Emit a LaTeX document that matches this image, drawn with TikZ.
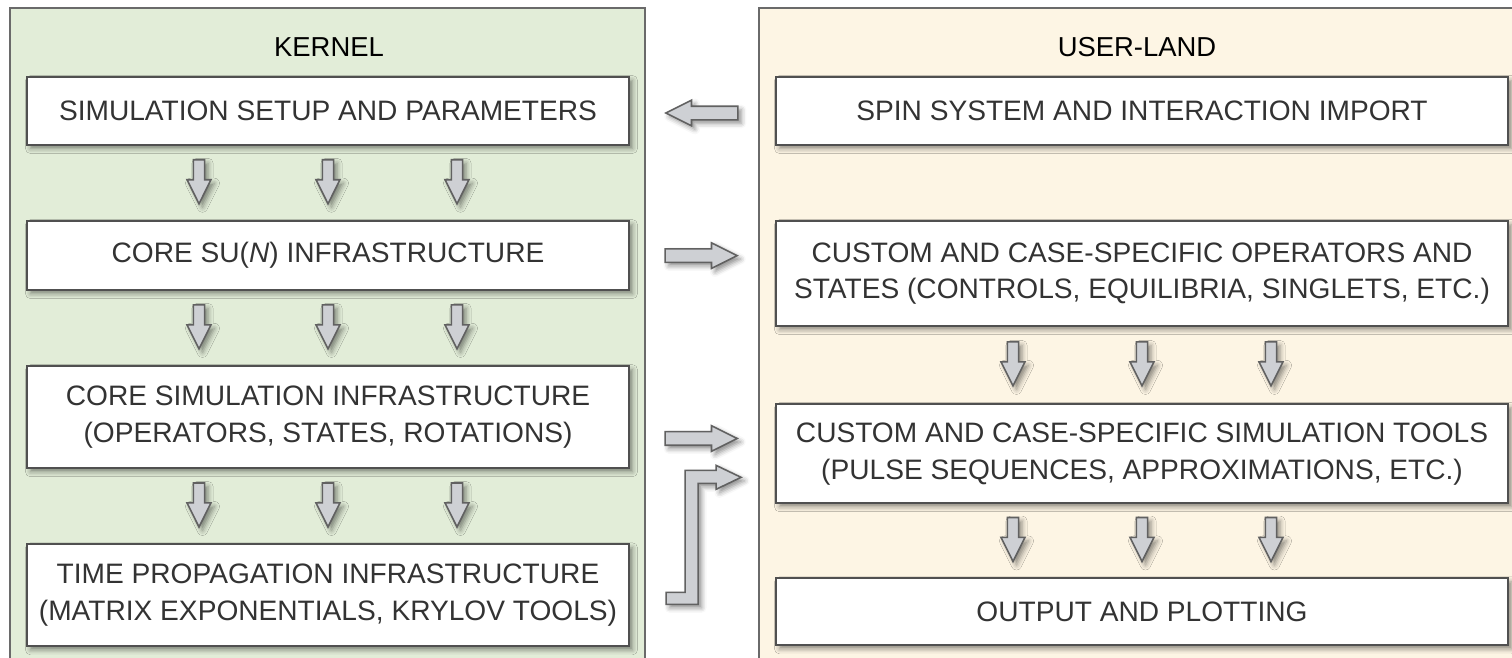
\documentclass[tikz,border=0pt]{standalone}
\usepackage{fontspec}
\setmainfont{Liberation Sans}
\usetikzlibrary{positioning,calc,shapes.arrows,shadows.blur}
\definecolor{KernGreen}{RGB}{226,237,216}
\definecolor{UserCream}{RGB}{253,245,228}
\definecolor{EdgeGray}{RGB}{80,80,80}
\definecolor{ArrGray}{RGB}{206,208,212}
\definecolor{TxtGray}{RGB}{51,51,51}

\begin{document}
\begin{tikzpicture}[
node distance=0.74cm,
panel/.style={draw=EdgeGray!85,line width=0.5pt},
ttl/.style={font=\fontsize{7.8}{10.5}\selectfont,text=black},
shdw/.style={blur shadow={shadow xshift=0.035cm,shadow yshift=-0.035cm,shadow blur radius=0.05cm,shadow opacity=45}},
mybox/.style={draw=EdgeGray,fill=white,line width=0.6pt,font=\fontsize{8}{10.5}\selectfont,text=TxtGray,align=center,inner sep=0pt,shdw},
kbox/.style={mybox,minimum width=6.02cm},
ubox/.style={mybox,minimum width=7.32cm},
barr/.style={draw=EdgeGray!90,fill=ArrGray,line width=0.45pt,shdw},
sarr/.style={barr,shape=single arrow,inner sep=0.06cm,minimum width=0.24cm,single arrow head extend=0.06cm,single arrow tip angle=53},
darr/.style={sarr,inner xsep=0.045cm,inner ysep=0pt,minimum height=0.44cm,shape border rotate=270,anchor=tip},
harr/.style={sarr,minimum height=0.72cm,anchor=tip}]
\useasboundingbox (0,0) rectangle (15.12,-6.58);
\clip (0,0) rectangle (15.12,-6.58);
% panels
\draw[panel,fill=KernGreen] (0.10,-0.08) rectangle (6.45,-6.80);
\draw[panel,fill=UserCream] (7.59,-0.08) rectangle (15.30,-6.80);
\node[ttl] (kt) at (3.29,-0.47) {KERNEL};
\node[ttl] (ut) at (11.37,-0.47) {USER-LAND};
% kernel side
\node[kbox,minimum height=0.68cm] (k1) at (3.28,-1.11) {SIMULATION SETUP AND PARAMETERS};
\node[kbox,minimum height=0.69cm,below=of k1] (k2) {CORE SU(\textit{N}) INFRASTRUCTURE};
\node[kbox,minimum height=1.02cm,below=of k2] (k3) {CORE SIMULATION INFRASTRUCTURE\\(OPERATORS, STATES, ROTATIONS)};
\node[kbox,minimum height=1.02cm,below=of k3] (k4) {TIME PROPAGATION INFRASTRUCTURE\\(MATRIX EXPONENTIALS, KRYLOV TOOLS)};
% user-land side
\node[ubox,minimum height=0.68cm] (u1) at (11.42,-1.11) {SPIN SYSTEM AND INTERACTION IMPORT};
\node[ubox,minimum height=1.05cm,below=of u1] (u2) {CUSTOM AND CASE-SPECIFIC OPERATORS AND\\STATES (CONTROLS, EQUILIBRIA, SINGLETS, ETC.)};
\node[ubox,minimum height=0.99cm,below=0.76cm of u2] (u3) {CUSTOM AND CASE-SPECIFIC SIMULATION TOOLS\\(PULSE SEQUENCES, APPROXIMATIONS, ETC.)};
\node[ubox,minimum height=0.67cm,below=0.73cm of u3] (u4) {OUTPUT AND PLOTTING};
% down arrows
\foreach \a/\b in {k1/k2,k2/k3,k3/k4,u2/u3,u3/u4}
  \foreach \i/\dx in {1/-1.29,2/0,3/1.29}
    \node[darr] (\a\b\i) at ($(\a.south)!0.5!(\b.north)+(\dx,-0.225)$) {};
% arrows between the panels
\coordinate (m3) at ($(k3.east)!0.5!(u3.west)$);
\node[harr,shape border rotate=180] (h1) at ($(k1.east)+(0.34,-0.02)$) {};
\node[harr] (h2) at ($(k2.east-|u2.west)+(-0.36,0)$) {};
\node[harr] (h3) at ($(m3-|u3.west)+(-0.36,-0.03)$) {};
\draw[barr] ($(k4.east)+(0.36,0.03)$) -- ++(0.19,0) -- ++(0,1.22) -- ++(0.31,0) -- ++(0,0.05)
  -- ++(0.25,-0.12) -- ++(-0.25,-0.12) -- ++(0,0.06) -- ++(-0.18,0) -- ++(0,-1.21) -- ++(-0.32,0) -- cycle;
\end{tikzpicture}
\end{document}
